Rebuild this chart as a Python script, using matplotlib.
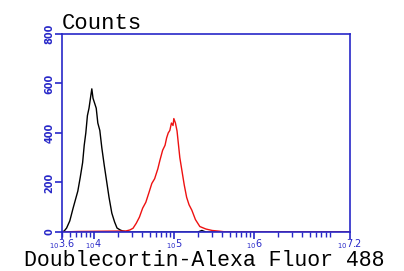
import numpy as np
import matplotlib.pyplot as plt
from matplotlib.ticker import LogLocator, NullFormatter

# log10 of fluorescence intensity and counts
ctrl_log = [3.60, 3.63, 3.66, 3.70, 3.74, 3.77, 3.80, 3.83, 3.86, 3.88, 3.90, 3.92, 3.94,
            3.96, 3.975, 3.99, 4.01, 4.03, 4.05, 4.075, 4.10, 4.13, 4.16, 4.19, 4.225,
            4.26, 4.29, 4.33, 4.36, 4.42, 4.60, 5.30, 5.35, 5.40, 5.60, 7.20]
ctrl_cnt = [0, 4, 16, 45, 95, 130, 165, 220, 280, 350, 400, 470, 500,
            545, 578, 540, 520, 500, 440, 410, 340, 270, 205, 140, 76,
            40, 16, 8, 4, 0, 0, 0, 6, 0, 0, 0]

dcx_log = [3.60, 3.80, 4.40, 4.45, 4.49, 4.53, 4.57, 4.61, 4.65, 4.69, 4.725, 4.76, 4.80,
           4.825, 4.86, 4.89, 4.91, 4.93, 4.95, 4.97, 4.99, 5.00, 5.02, 5.04, 5.075,
           5.10, 5.13, 5.16, 5.19, 5.225, 5.27, 5.325, 5.40, 5.48, 5.575, 5.65, 7.20]
dcx_cnt = [0, 2, 4, 8, 15, 35, 60, 96, 120, 160, 196, 215, 255,
           288, 330, 350, 380, 400, 410, 440, 430, 458, 440, 408, 300,
           250, 190, 140, 110, 88, 50, 22, 12, 6, 3, 0, 0]

y_ticks = [0, 200, 400, 600, 800]
x_ticks = [10**3.6, 1e4, 1e5, 1e6, 10**7.2]
x_labels = ['3.6', '4', '5', '6', '7.2']

blue = '#2828c8'

fig = plt.figure(figsize=(4.04, 2.71), dpi=100)
ax = fig.add_axes([0.153, 0.144, 0.713, 0.731])

ax.plot(10**np.array(ctrl_log), ctrl_cnt, color='black', linewidth=1.0)
ax.plot(10**np.array(dcx_log), dcx_cnt, color='#ee1111', linewidth=1.0)

ax.set_xscale('log')
ax.set_xlim(10**3.6, 10**7.2)
ax.set_ylim(0, 800)

for s in ax.spines.values():
    s.set_color(blue)
    s.set_linewidth(1.2)

ax.set_yticks(y_ticks)
ax.set_yticklabels([str(v) for v in y_ticks], rotation=90, va='center',
                   color=blue, fontsize=7, fontweight='bold')
ax.set_xticks(x_ticks)
ax.set_xticklabels([r'${}_{\mathregular{10}}\mathregular{%s}$' % t for t in x_labels],
                   color=blue, fontsize=7)
ax.xaxis.set_minor_locator(LogLocator(base=10, subs=np.arange(2, 10)))
ax.xaxis.set_minor_formatter(NullFormatter())
ax.tick_params(axis='both', which='major', direction='out', length=5, width=1.2,
               color=blue, pad=0.5)
ax.tick_params(axis='x', which='major', pad=-1.5)
ax.tick_params(axis='x', which='minor', direction='out', length=3.5, width=1.0, color=blue)

ax.text(0.0, 1.0, 'Counts', transform=ax.transAxes, ha='left', va='bottom',
        fontsize=16, family='Liberation Mono')
ax.text(0.493, -0.172, 'Doublecortin-Alexa Fluor 488', transform=ax.transAxes,
        ha='center', va='baseline', fontsize=15.5, family='Liberation Mono')

fig.savefig('out.png', dpi=100)
